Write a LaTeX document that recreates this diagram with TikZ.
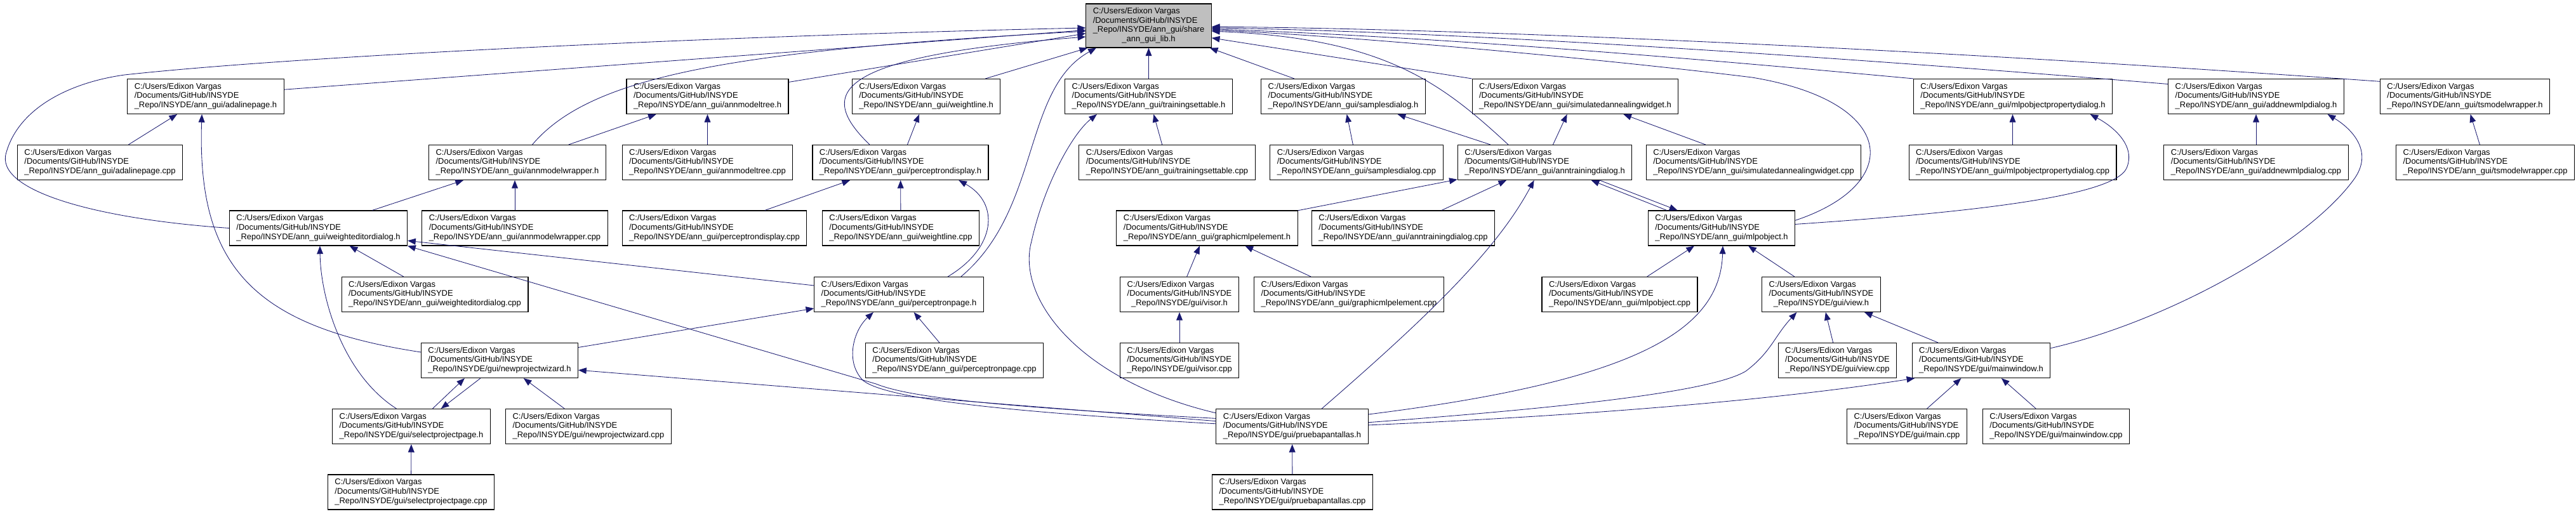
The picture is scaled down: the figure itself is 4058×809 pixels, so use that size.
\documentclass[tikz,border=0pt]{standalone}
\usepackage{fontspec}
\setmainfont{Liberation Sans}
\usepackage{xcolor}
\usepackage{tikz}
\usetikzlibrary{arrows.meta}

\definecolor{edgeblue}{HTML}{191970}
\definecolor{mainfill}{HTML}{BFBFBF}

\newcommand{\fpath}[1]{\begin{tabular}{@{}l@{}}C:/Users/Edixon Vargas\\/Documents/GitHub/INSYDE\\\multicolumn{1}{@{}c@{}}{\_Repo/INSYDE/#1}\end{tabular}}
\newcommand{\annf}[1]{\fpath{ann\_gui/#1}}
\newcommand{\guif}[1]{\fpath{gui/#1}}

\begin{document}
\begin{tikzpicture}[x=0.025cm, y=-0.025cm, >={Triangle[length=9pt,width=7pt]},
		file/.style={draw=black, fill=white, line width=0.8pt, inner xsep=0.275cm, minimum height=1.375cm, font=\fontsize{9.2}{10.4}\selectfont},
		dep/.style={->, color=edgeblue, line width=0.6pt}]
		\useasboundingbox (0,0) rectangle (4058,809);

		% Header itself
		\node[file, fill=mainfill, minimum height=1.725cm] (main) at (1809.5,40.5) {\begin{tabular}{@{}l@{}}C:/Users/Edixon Vargas\\/Documents/GitHub/INSYDE\\\_Repo/INSYDE/ann\_gui/share\\\multicolumn{1}{@{}c@{}}{\_ann\_gui\_lib.h}\end{tabular}};

		% Row 1
		\node[file] (adalineh) at (324,152) {\annf{adalinepage.h}};
		\node[file] (treeh) at (1114.5,152) {\annf{annmodeltree.h}};
		\node[file] (wlineh) at (1459,152) {\annf{weightline.h}};
		\node[file] (tsetth) at (1809.5,152) {\annf{trainingsettable.h}};
		\node[file] (samph) at (2116,152) {\annf{samplesdialog.h}};
		\node[file] (simh) at (2481.5,152) {\annf{simulatedannealingwidget.h}};
		\node[file] (mlpdlgh) at (3171,152) {\annf{mlpobjectpropertydialog.h}};
		\node[file] (addmlph) at (3554,152) {\annf{addnewmlpdialog.h}};
		\node[file] (tswraph) at (3883,152) {\annf{tsmodelwrapper.h}};

		% Row 2
		\node[file] (adalinecpp) at (157.5,256) {\annf{adalinepage.cpp}};
		\node[file] (wraph) at (815,256) {\annf{annmodelwrapper.h}};
		\node[file] (treecpp) at (1114.5,256) {\annf{annmodeltree.cpp}};
		\node[file] (pdisph) at (1418.5,256) {\annf{perceptrondisplay.h}};
		\node[file] (tsettcpp) at (1838.5,256) {\annf{trainingsettable.cpp}};
		\node[file] (sampcpp) at (2137,256) {\annf{samplesdialog.cpp}};
		\node[file] (traindlgh) at (2433.5,256) {\annf{anntrainingdialog.h}};
		\node[file] (simcpp) at (2762.5,256) {\annf{simulatedannealingwidget.cpp}};
		\node[file] (mlpdlgcpp) at (3170.5,256) {\annf{mlpobjectpropertydialog.cpp}};
		\node[file] (addmlpcpp) at (3554,256) {\annf{addnewmlpdialog.cpp}};
		\node[file] (tswrapcpp) at (3915,256) {\annf{tsmodelwrapper.cpp}};

		% Row 3
		\node[file] (wedh) at (501.5,359.5) {\annf{weighteditordialog.h}};
		\node[file] (wrapcpp) at (811,359.5) {\annf{annmodelwrapper.cpp}};
		\node[file] (pdispcpp) at (1125.5,359.5) {\annf{perceptrondisplay.cpp}};
		\node[file] (wlinecpp) at (1419,359.5) {\annf{weightline.cpp}};
		\node[file] (gmlph) at (1901.5,359.5) {\annf{graphicmlpelement.h}};
		\node[file] (traindlgcpp) at (2210.5,359.5) {\annf{anntrainingdialog.cpp}};
		\node[file] (mlpobjh) at (2712,359.5) {\annf{mlpobject.h}};

		% Row 4
		\node[file] (wedcpp) at (685,464) {\annf{weighteditordialog.cpp}};
		\node[file] (ppageh) at (1416,464) {\annf{perceptronpage.h}};
		\node[file] (visorh) at (1858,464) {\guif{visor.h}};
		\node[file] (gmlpcpp) at (2125,464) {\annf{graphicmlpelement.cpp}};
		\node[file] (mlpobjcpp) at (2551.5,464) {\annf{mlpobject.cpp}};
		\node[file] (viewh) at (2869,464) {\guif{view.h}};

		% Row 5
		\node[file] (npwh) at (787,568) {\guif{newprojectwizard.h}};
		\node[file] (ppagecpp) at (1503.5,568) {\annf{perceptronpage.cpp}};
		\node[file] (visorcpp) at (1858,568) {\guif{visor.cpp}};
		\node[file] (viewcpp) at (2894.5,568) {\guif{view.cpp}};
		\node[file] (mainwinh) at (3121,568) {\guif{mainwindow.h}};

		% Row 6
		\node[file] (spageh) at (648,672) {\guif{selectprojectpage.h}};
		\node[file] (npwcpp) at (927,672) {\guif{newprojectwizard.cpp}};
		\node[file] (pruebah) at (2035.5,672) {\guif{pruebapantallas.h}};
		\node[file] (maincpp) at (3004,672) {\guif{main.cpp}};
		\node[file] (mainwincpp) at (3239,672) {\guif{mainwindow.cpp}};

		% Row 7
		\node[file] (spagecpp) at (647.5,775.5) {\guif{selectprojectpage.cpp}};
		\node[file] (pruebacpp) at (2036,775.5) {\guif{pruebapantallas.cpp}};

		% Includes of the header, left side
		\draw[dep] (wedh.west) .. controls (150,345) and (-10,300) .. (10,240) .. controls (30,170) and (110,130) .. (196,118) .. controls (500,85) and (1200,55) .. (main.182);
		\draw[dep] (adalineh.5) -- (main.184);
		\draw[dep] (wraph.50) .. controls (930,120) and (1150,80) .. (main.185);
		\draw[dep] (treeh.10) -- (main.187);
		\draw[dep] (pdisph.150) .. controls (1290,150) and (1300,90) .. (main.190);
		\draw[dep] (wlineh) -- (main.200);
		\draw[dep] (ppageh.16) .. controls (1640,330) and (1610,140) .. (main.203);
		\draw[dep] (tsetth) -- (main);

		% Includes of the header, right side
		\draw[dep] (samph.160) -- (main.340);
		\draw[dep] (simh.north west) -- (main.349);
		\draw[dep] (traindlgh.154) .. controls (2270,130) and (2180,60) .. (main.355);
		\draw[dep] (mlpobjh.6) .. controls (3000,290) and (2990,160) .. (2760,122) .. controls (2500,90) and (2100,55) .. (main.356);
		\draw[dep] (mlpdlgh.north west) .. controls (2700,95) and (2300,60) .. (main.357);
		\draw[dep] (addmlph.172) .. controls (2900,90) and (2300,50) .. (main.358);
		\draw[dep] (tswraph.170) .. controls (3000,75) and (2300,45) .. (main.359);

		% ann_gui headers
		\draw[dep] (adalinecpp) -- (adalineh);
		\draw[dep] (npwh.174) .. controls (400,515) and (310,420) .. (adalineh.258);
		\draw[dep] (treecpp) -- (treeh);
		\draw[dep] (wraph) -- (treeh);
		\draw[dep] (wrapcpp.north) -- (wrapcpp.north |- wraph.south);
		\draw[dep] (wedh) -- (wraph);
		\draw[dep] (pdisph) -- (wlineh);
		\draw[dep] (pdispcpp) -- (pdisph);
		\draw[dep] (wlinecpp) -- (pdisph);
		\draw[dep] (ppageh.20) .. controls (1570,390) and (1575,320) .. (pdisph.343);
		\draw[dep] (ppagecpp) -- (ppageh);
		\draw[dep] (tsettcpp) -- (tsetth);
		\draw[dep] (pruebah.170) .. controls (1700,600) and (1600,470) .. (1625,380) .. controls (1645,290) and (1690,210) .. (tsetth.199);
		\draw[dep] (sampcpp) -- (samph);
		\draw[dep] (traindlgh) -- (samph);
		\draw[dep] (traindlgh) -- (simh);
		\draw[dep] (simcpp) -- (simh);
		\draw[dep] (traindlgcpp) -- (traindlgh);
		\draw[dep] (gmlph) -- (traindlgh);
		\draw[dep] (pruebah.31) .. controls (2260,490) and (2360,390) .. (traindlgh.239);
		\draw[dep] (mlpobjh.162) -- (traindlgh.339);
		\draw[dep] (traindlgh.342) -- (mlpobjh.158);
		\draw[dep] (mlpobjcpp) -- (mlpobjh);
		\draw[dep] (viewh) -- (mlpobjh);
		\draw[dep] (mlpobjh.3) .. controls (3100,335) and (3330,310) .. (3350,265) .. controls (3365,230) and (3330,200) .. (mlpdlgh.347);
		\draw[dep] (mlpdlgcpp.north) -- (mlpdlgcpp.north |- mlpdlgh.south);
		\draw[dep] (addmlpcpp) -- (addmlph);
		\draw[dep] (mainwinh.10) .. controls (3420,505) and (3640,380) .. (3710,280) .. controls (3740,235) and (3700,200) .. (addmlph.346);
		\draw[dep] (tswrapcpp) -- (tswraph);
		\draw[dep] (gmlpcpp) -- (gmlph);
		\draw[dep] (visorh) -- (gmlph);
		\draw[dep] (visorcpp) -- (visorh);
		\draw[dep] (wedcpp) -- (wedh);
		\draw[dep] (ppageh.174) -- (wedh.352);

		% gui headers
		\draw[dep] (spageh.130) .. controls (540,590) and (505,470) .. (wedh.275);
		\draw[dep] (spageh.40) -- (npwh.207);
		\draw[dep] (npwh.223) -- (spageh.31);
		\draw[dep] (spagecpp) -- (spageh);
		\draw[dep] (npwcpp) -- (npwh);
		\draw[dep] (npwh) -- (ppageh);
		\draw[dep] (pruebah.176) -- (npwh.353);
		\draw[dep] (pruebah.174) .. controls (1550,640) and (1430,625) .. (1380,605) -- (wedh.south east);
		\draw[dep] (pruebah.178) .. controls (1600,650) and (1400,630) .. (1360,600) .. controls (1330,570) and (1345,520) .. (ppageh.215);
		\draw[dep] (pruebacpp) -- (pruebah);
		\draw[dep] (pruebah.9) .. controls (2580,600) and (2710,520) .. (mlpobjh.274);
		\draw[dep] (pruebah.3) .. controls (2500,640) and (2700,615) .. (2750,585) .. controls (2790,555) and (2795,530) .. (viewh.216);
		\draw[dep] (pruebah.1) .. controls (2500,655) and (2800,630) .. (mainwinh.195);
		\draw[dep] (viewcpp) -- (viewh);
		\draw[dep] (mainwinh) -- (viewh);
		\draw[dep] (maincpp) -- (mainwinh);
		\draw[dep] (mainwincpp) -- (mainwinh);

	\end{tikzpicture}
\end{document}
